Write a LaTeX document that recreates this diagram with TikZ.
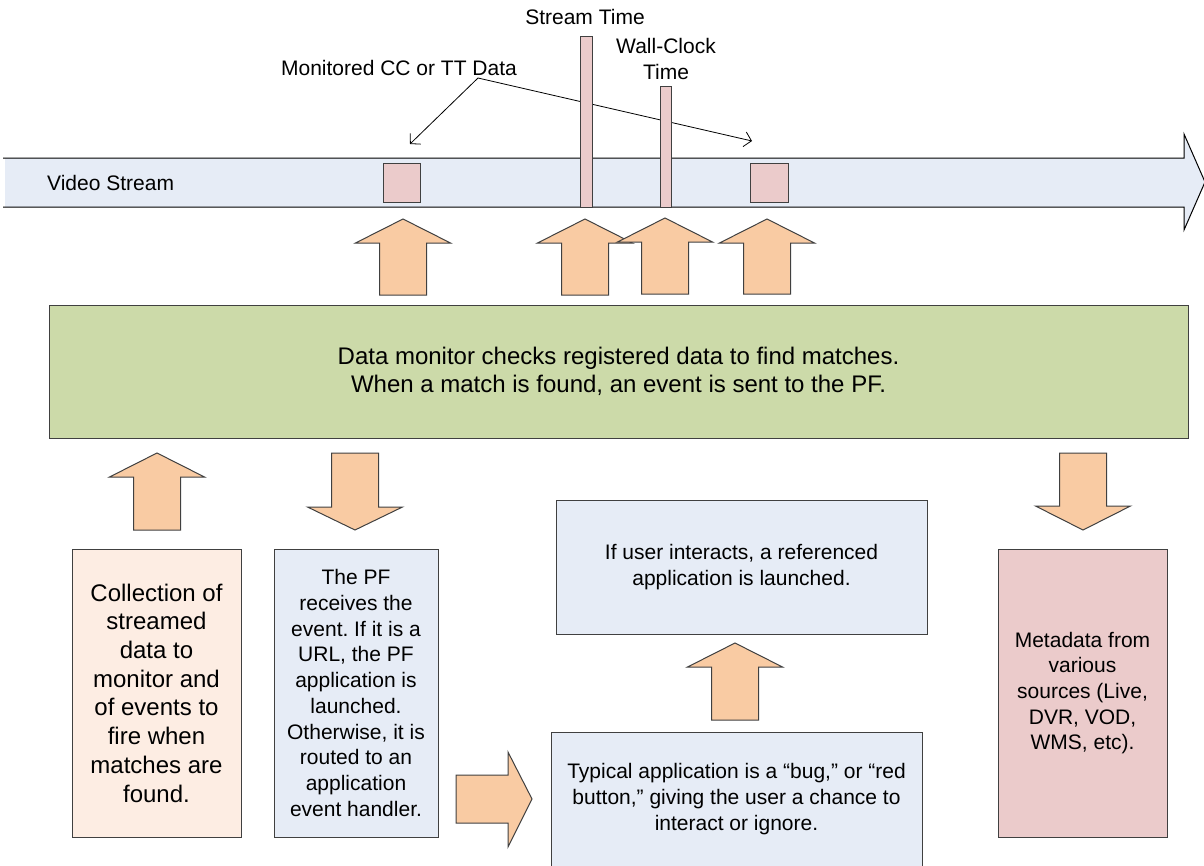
\documentclass[tikz,border=0pt]{standalone}
\usepackage{fontspec}
\setmainfont{Liberation Sans}
\usetikzlibrary{arrows.meta}
\definecolor{streamblue}{HTML}{E6ECF6}
\definecolor{markpink}{HTML}{EBCBCB}
\definecolor{arroworange}{HTML}{F9CBA3}
\definecolor{monitorgreen}{HTML}{CCDAA9}
\definecolor{peach}{HTML}{FDEDE3}
\definecolor{boxblue}{HTML}{E6ECF6}
\definecolor{boxline}{HTML}{404040}
\newcommand{\vblock}[4]{% cx, tip y, shaft end y, head base y
  \draw[blockarrow] (#1-23.5,#3) -- (#1-23.5,#4) -- (#1-47.5,#4) -- (#1,#2)
    -- (#1+47.5,#4) -- (#1+23.5,#4) -- (#1+23.5,#3) -- cycle;}
\frenchspacing
\begin{document}
\begin{tikzpicture}[x=1pt,y=-1pt,
  box/.style={draw=boxline, line width=1pt, inner sep=0pt, outer sep=0pt,
    align=center, font=\fontsize{21}{25.7}\selectfont},
  streammark/.style={draw=boxline, line width=1pt, fill=markpink, inner sep=0pt, outer sep=0pt},
  blockarrow/.style={draw=boxline, line width=1pt, fill=arroworange, line join=miter},
  txtlabel/.style={inner sep=0pt, font=\fontsize{21}{25.7}\selectfont, align=center},
  callout/.style={draw=black, line width=0.8pt, -{Straight Barb[length=7pt,width=15pt,line width=0.8pt]}}
]
\useasboundingbox (0,0) rectangle (1204,865);

% video stream arrow
\fill[streamblue] (5,158) -- (1184,158) -- (1184,134) -- (1205,182) -- (1184,230) -- (1184,207) -- (5,207) -- cycle;
\draw[black, line width=1pt, line join=miter] (3,158) -- (1184,158) -- (1184,134) -- (1205,182) -- (1184,230) -- (1184,207) -- (3,207);
\node[txtlabel, anchor=west] (vs) at (47,183) {Video Stream};

% callouts
\node[txtlabel] (monlabel) at (399,68) {Monitored CC or TT Data};
\coordinate (mon) at (478,78);
\coordinate (c1) at (410,144);
\coordinate (c2) at (752,141);
\draw[callout] (mon) -- (c1);
\draw[callout] (mon) -- (c2);

% marks on the stream
\node[streammark, minimum width=37pt, minimum height=39pt] (sq1) at (401.5,182.5) {};
\node[streammark, minimum width=38pt, minimum height=39pt] (sq2) at (769,182.5) {};
\node[streammark, minimum width=12pt, minimum height=171pt] (stbar) at (586,121.5) {};
\node[streammark, minimum width=11pt, minimum height=121pt] (wcbar) at (665.5,146.5) {};
\node[txtlabel] (stlabel) at (585,17) {Stream Time};
\node[txtlabel] (wclabel) at (666,59) {Wall-Clock\\Time};

% up arrows to the stream
\vblock{403}{219}{295}{243}
\vblock{585}{219}{295}{243}
\vblock{665}{218}{294}{242}
\vblock{767}{219}{294}{243}

% data monitor
\node[box, fill=monitorgreen, minimum width=1139pt, minimum height=133pt,
  font=\fontsize{24}{28}\selectfont] (monitor) at (618.5,371.5)
  {Data monitor checks registered data to find matches.\\When a match is found, an event is sent to the PF.};

% arrows below monitor
\vblock{157}{453}{530}{477}
\vblock{355}{530}{453}{507}
\vblock{1083}{530}{453}{506}
\vblock{735}{643}{720}{667}
\draw[blockarrow] (456,775) -- (508,775) -- (508,752) -- (532,799) -- (508,847) -- (508,823) -- (456,823) -- cycle;

% boxes
\node[box, fill=peach, minimum width=169pt, minimum height=288pt,
  font=\fontsize{24}{28.7}\selectfont] (coll) at (156.5,693)
  {Collection of\\streamed\\data to\\monitor and\\of events to\\fire when\\matches are\\found.};
\node[box, fill=boxblue, minimum width=164pt, minimum height=288pt] (pf) at (356,693)
  {The PF\\receives the\\event. If it is a\\URL, the PF\\application is\\launched.\\Otherwise, it is\\routed to an\\application\\event handler.};
\node[box, fill=boxblue, minimum width=371pt, minimum height=134pt] (launch) at (741.5,567)
  {If user interacts, a referenced\\application is launched.};
\node[box, fill=boxblue, minimum width=371pt, minimum height=134pt] (typical) at (736.5,799)
  {Typical application is a “bug,” or “red\\button,” giving the user a chance to\\interact or ignore.};
\node[box, fill=markpink, minimum width=169pt, minimum height=288pt] (meta) at (1082.5,693)
  {Metadata from\\various\\sources (Live,\\DVR, VOD,\\WMS, etc).};
\end{tikzpicture}
\end{document}
